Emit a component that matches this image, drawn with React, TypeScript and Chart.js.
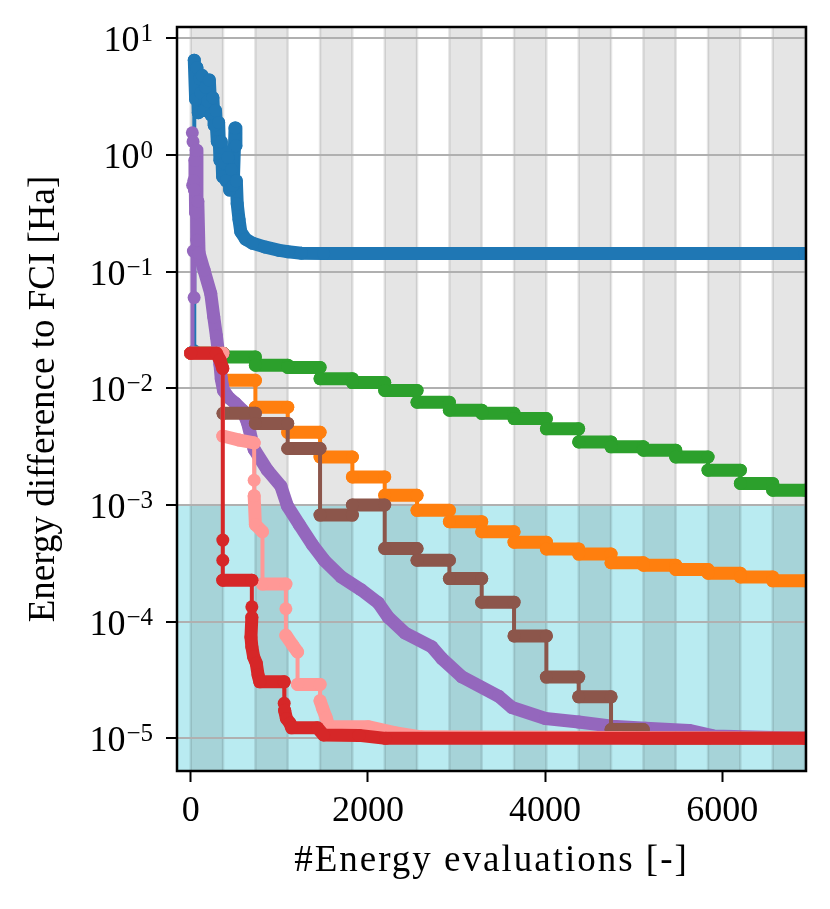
import React, { useEffect, useRef } from 'react';
import { Chart, registerables } from 'chart.js';

Chart.register(...registerables);

// ---- axes / ticks ----
const xTickValues = [0, 2000, 4000, 6000];
const yTickExponents = [-5, -4, -3, -2, -1, 0, 1];
const xTitle = '#Energy evaluations [-]';
const yTitle = 'Energy difference to FCI [Ha]';
const cyanTop = 1e-3;

// shaded cycle boundaries (every other interval is gray)
const cycleBounds = [0, 365, 730, 1095, 1460, 1825, 2190, 2555, 2920, 3285, 3650, 4015, 4380, 4745, 5110, 5475, 5840, 6205, 6570, 6935];

// ---- step-wise series: one level per cycle ----
const greenLevels = [0.02, 0.0186, 0.0158, 0.0151, 0.0121, 0.0112, 0.0096, 0.0076, 0.0065, 0.0061, 0.0055, 0.0045, 0.00347, 0.00315, 0.00295, 0.00258, 0.00199, 0.00153, 0.00134];
const orangeLevels = [0.02, 0.0117, 0.0069, 0.0042, 0.00258, 0.00174, 0.00121, 0.0009, 0.00072, 0.00059, 0.00048, 0.00042, 0.00038, 0.00032, 0.000305, 0.00028, 0.00026, 0.000242, 0.000224];
const brownLevels = [0.02, 0.0061, 0.005, 0.00305, 0.00082, 0.001, 0.000424, 0.000336, 0.000234, 0.000147, 0.0000755, 0.0000335, 0.0000227, 0.0000119, 0.00001, 0.00001, 0.00001, 0.00001, 0.00001];

// ---- free series ----
const blueX = [40, 40, 55, 70, 85, 100, 115, 130, 150, 170, 190, 210, 230, 250, 265, 280, 300, 315, 330, 345, 360, 380, 400, 420, 440, 460, 480, 500, 510, 515, 525, 545, 565, 620, 700, 834, 1000, 1100, 1250, 1500, 6935];
const blueY = [0.021, 6.5, 3.0, 5.6, 2.3, 4.5, 3.4, 4.8, 2.4, 3.8, 2.9, 4.4, 2.2, 3.1, 1.8, 2.4, 1.3, 1.9, 0.9, 1.3, 0.65, 0.85, 0.6, 0.95, 0.5, 0.75, 0.55, 1.7, 1.2, 0.6, 0.38, 0.28, 0.22, 0.19, 0.175, 0.163, 0.152, 0.148, 0.144, 0.143, 0.143];

const purpleX = [15, 18, 22, 26, 30, 34, 38, 42, 48, 55, 62, 70, 80, 94, 150, 226, 260, 290, 310, 330, 345, 370, 430, 500, 583, 640, 716, 866, 1018, 1092, 1225, 1375, 1507, 1696, 1922, 2117, 2230, 2419, 2720, 2833, 3060, 3475, 3626, 4004, 4381, 4758, 5136, 5626, 5900, 6935];
const purpleY = [0.02, 1.55, 0.55, 1.3, 0.15, 0.6, 0.06, 0.5, 0.9, 0.32, 1.1, 0.186, 0.4, 0.144, 0.103, 0.065, 0.041, 0.028, 0.021, 0.016, 0.012, 0.0096, 0.0083, 0.0075, 0.0065, 0.0051, 0.003, 0.00199, 0.00145, 0.00098, 0.00068, 0.000455, 0.000336, 0.000243, 0.000188, 0.000145, 0.000109, 0.00008, 0.000061, 0.0000485, 0.0000337, 0.000023, 0.0000184, 0.0000148, 0.0000138, 0.0000127, 0.0000122, 0.0000117, 0.0000105, 0.00001];

const pinkX = [0, 362, 362, 550, 716, 716, 716, 730, 810, 810, 1074, 1074, 1074, 1150, 1206, 1206, 1460, 1460, 1490, 1530, 1560, 2000, 2300, 2600, 6935];
const pinkY = [0.02, 0.02, 3.9e-3, 3.6e-3, 3.4e-3, 1.63e-3, 1.2e-3, 6.8e-4, 5.9e-4, 2.1e-4, 2.1e-4, 1.29e-4, 7.65e-5, 6.3e-5, 5.5e-5, 2.9e-5, 2.9e-5, 2.1e-5, 1.8e-5, 1.5e-5, 1.26e-5, 1.26e-5, 1.12e-5, 1.03e-5, 1.0e-5];

const redX = [0, 290, 330, 362, 362, 362, 362, 690, 690, 690, 680, 690, 710, 740, 760, 780, 1055, 1055, 1060, 1080, 1120, 1140, 1430, 1500, 1900, 2200, 6935];
const redY = [0.02, 0.02, 0.0175, 0.0148, 5.0e-4, 3.36e-4, 2.27e-4, 2.27e-4, 1.34e-4, 1.09e-4, 7.4e-5, 6.1e-5, 5.0e-5, 4.4e-5, 3.5e-5, 3.05e-5, 3.05e-5, 2.0e-5, 1.74e-5, 1.48e-5, 1.35e-5, 1.23e-5, 1.23e-5, 1.07e-5, 1.06e-5, 1.0e-5, 1.0e-5];

const FONT = "'Liberation Serif', 'DejaVu Serif', serif";
const THICK = 13;
const THIN = 4;

function pairs(xs: number[], ys: number[]) {
  return xs.map((x, i) => ({ x, y: ys[i] }));
}

function steps(levels: number[]) {
  const pts: { x: number; y: number }[] = [];
  levels.forEach((v, k) => {
    pts.push({ x: cycleBounds[k], y: v });
    pts.push({ x: cycleBounds[k + 1], y: v });
  });
  return pts;
}

function series(data: { x: number; y: number }[], color: string, order: number) {
  return {
    data,
    order,
    borderColor: color,
    backgroundColor: color,
    borderWidth: THICK,
    borderCapStyle: 'round',
    borderJoinStyle: 'round',
    pointRadius: 6.5,
    pointBorderWidth: 0,
    pointHoverRadius: 0,
    pointHitRadius: 0,
    clip: 0,
    segment: {
      // vertical jumps are thin lines, runs of evaluations are thick bands of markers
      borderWidth: (c: any) => (Math.abs(c.p0.x - c.p1.x) < 0.5 ? THIN : THICK),
    },
  };
}

const backdrop = {
  id: 'backdrop',
  beforeDraw(chart: any) {
    const { ctx, chartArea: a, scales } = chart;
    const xs = scales.x, ys = scales.y;
    ctx.save();
    ctx.fillStyle = '#fff';
    ctx.fillRect(0, 0, chart.width, chart.height);
    const yc = ys.getPixelForValue(cyanTop);
    ctx.fillStyle = 'rgba(23,190,207,0.3)';
    ctx.fillRect(a.left, yc, a.right - a.left, a.bottom - yc);
    ctx.fillStyle = 'rgba(0,0,0,0.1)';
    for (let k = 0; k + 1 < cycleBounds.length; k += 2) {
      const x0 = xs.getPixelForValue(cycleBounds[k]);
      const x1 = xs.getPixelForValue(cycleBounds[k + 1]);
      ctx.fillRect(x0, a.top, x1 - x0, a.bottom - a.top);
    }
    ctx.strokeStyle = 'rgba(0,0,0,0.1)';
    ctx.lineWidth = 2.5;
    for (const b of cycleBounds) {
      const px = xs.getPixelForValue(b);
      ctx.beginPath();
      ctx.moveTo(px, a.top);
      ctx.lineTo(px, a.bottom);
      ctx.stroke();
    }
    ctx.restore();
  },
  afterDraw(chart: any) {
    const { ctx, chartArea: a, scales } = chart;
    const xs = scales.x, ys = scales.y;
    ctx.save();
    ctx.strokeStyle = '#000';
    ctx.lineWidth = 2.5;
    ctx.strokeRect(a.left, a.top, a.right - a.left, a.bottom - a.top);

    ctx.fillStyle = '#000';
    ctx.textBaseline = 'alphabetic';
    ctx.font = `36px ${FONT}`;
    ctx.textAlign = 'center';
    for (const v of xTickValues) {
      ctx.fillText(String(v), xs.getPixelForValue(v), 821);
    }

    ctx.textAlign = 'right';
    for (const e of yTickExponents) {
      const py = ys.getPixelForValue(Math.pow(10, e));
      const exp = e < 0 ? '\u2212' + String(-e) : String(e);
      ctx.font = `25px ${FONT}`;
      const ew = ctx.measureText(exp).width;
      ctx.fillText(exp, 153, py + 3);
      ctx.font = `36px ${FONT}`;
      ctx.fillText('10', 153 - ew - 1, py + 13);
    }

    ctx.font = `37px ${FONT}`;
    ctx.textAlign = 'center';
    (ctx as any).letterSpacing = '2px';
    ctx.fillText(xTitle, (a.left + a.right) / 2, 871);
    (ctx as any).letterSpacing = '0px';

    ctx.translate(54, (a.top + a.bottom) / 2);
    ctx.rotate(-Math.PI / 2);
    ctx.fillText(yTitle, 0, 0);
    ctx.restore();
  },
};

export default function App() {
  const ref = useRef<HTMLCanvasElement>(null);
  const chartRef = useRef<Chart | null>(null);

  useEffect(() => {
    if (!ref.current) return;
    const ctx = ref.current.getContext('2d');
    if (!ctx) return;

    chartRef.current?.destroy();
    chartRef.current = new Chart(ctx, {
      type: 'line',
      data: {
        datasets: [
          series(pairs(blueX, blueY), '#1f77b4', 6),
          series(steps(orangeLevels), '#ff7f0e', 5),
          series(steps(greenLevels), '#2ca02c', 4),
          series(pairs(purpleX, purpleY), '#9467bd', 3),
          series(steps(brownLevels), '#8c564b', 2),
          series(pairs(pinkX, pinkY), '#ff9896', 1),
          series(pairs(redX, redY), '#d62728', 0),
        ] as any,
      },
      options: {
        responsive: false,
        animation: false,
        events: [],
        layout: { padding: { left: 0, top: 27, right: 24, bottom: 0 } },
        plugins: { legend: { display: false }, tooltip: { enabled: false } },
        scales: {
          x: {
            type: 'linear',
            min: -155,
            max: 6946,
            afterBuildTicks: (s: any) => { s.ticks = xTickValues.map((value) => ({ value })); },
            afterFit: (s: any) => { s.height = 138; },
            ticks: { display: false },
            grid: { drawOnChartArea: false, drawTicks: true, tickLength: 11, tickColor: '#000', tickWidth: 2 },
            border: { display: false },
          },
          y: {
            type: 'logarithmic',
            min: 5.25e-6,
            max: 12.5,
            afterBuildTicks: (s: any) => { s.ticks = yTickExponents.map((e) => ({ value: Math.pow(10, e) })); },
            afterFit: (s: any) => { s.width = 177; },
            ticks: { display: false },
            grid: { color: '#b0b0b0', lineWidth: 2, drawTicks: true, tickLength: 11, tickColor: '#000', tickWidth: 2 },
            border: { display: false },
          },
        },
      },
      plugins: [backdrop],
    });

    return () => chartRef.current?.destroy();
  }, []);

  return (
    <div style={{ position: 'fixed', left: 0, top: 0, width: 830, height: 909, background: '#fff' }}>
      <canvas ref={ref} width={830} height={909} style={{ display: 'block' }}></canvas>
    </div>
  );
}
